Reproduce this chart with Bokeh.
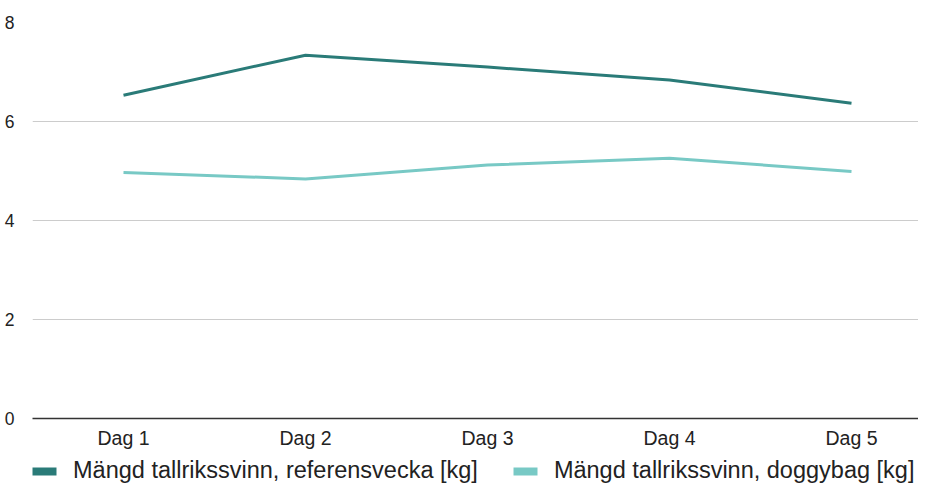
from bokeh.plotting import figure
from bokeh.layouts import column
from bokeh.models import Range1d, Legend, LegendItem, FixedTicker
from bokeh.embed import file_html
from bokeh.resources import INLINE

# ---- data ----
days = ["Dag 1", "Dag 2", "Dag 3", "Dag 4", "Dag 5"]
referensvecka = [6.53, 7.34, 7.10, 6.84, 6.37]
doggybag = [4.97, 4.84, 5.12, 5.26, 4.99]
y_ticks = [0, 2, 4, 6, 8]
series_names = ["Mängd tallrikssvinn, referensvecka [kg]",
                "Mängd tallrikssvinn, doggybag [kg]"]
colors = ["#2a7b78", "#78c9c5"]
series = [referensvecka, doggybag]

FONT = "Liberation Sans"
x_pos = list(range(1, len(days) + 1))

W = 918
FRAME_W = W - 32
p = figure(width=W, height=454, output_backend="svg", toolbar_location=None,
           x_range=Range1d(0.5, 0.5 + FRAME_W / 182), y_range=Range1d(0, 8),
           min_border_left=32, min_border_right=0, min_border_top=22,
           min_border_bottom=36)
p.outline_line_color = None

# axes
p.yaxis.ticker = FixedTicker(ticks=y_ticks)
p.yaxis.axis_line_color = None
p.yaxis.major_tick_line_color = None
p.yaxis.minor_tick_line_color = None
p.yaxis.major_label_text_font = FONT
p.yaxis.major_label_text_font_size = "17.5px"
p.yaxis.major_label_text_color = "#222222"
p.yaxis.major_label_standoff = 12

p.xaxis.ticker = FixedTicker(ticks=x_pos)
p.xaxis.major_label_overrides = {i: d for i, d in zip(x_pos, days)}
p.xaxis.axis_line_color = "#333333"
p.xaxis.axis_line_width = 1.5
p.xaxis.major_tick_line_color = None
p.xaxis.minor_tick_line_color = None
p.xaxis.major_label_text_font = FONT
p.xaxis.major_label_text_font_size = "19.5px"
p.xaxis.major_label_text_color = "#222222"
p.xaxis.major_label_standoff = 2

p.xgrid.grid_line_color = None
p.ygrid.ticker = FixedTicker(ticks=y_ticks)
p.ygrid.grid_line_color = "#cccccc"
p.ygrid.grid_line_width = 1

# lines
for vals, c in zip(series, colors):
    p.line(x_pos, vals, line_color=c, line_width=3)

# ---- legend strip ----
lg = figure(width=W, height=30, output_backend="svg", toolbar_location=None,
            x_range=Range1d(0, 1), y_range=Range1d(0, 1),
            x_axis_location=None, y_axis_location=None, min_border=0)
lg.grid.visible = False
lg.outline_line_color = None

items = []
for name, vals, c in zip(series_names, series, colors):
    # zero-size proxies: only their legend swatch is visible
    r = lg.rect(x=x_pos, y=vals, width=0, height=0,
                fill_color=c, line_color=None)
    items.append(LegendItem(label=name, renderers=[r]))

legend = Legend(items=items, orientation="horizontal", location=(-3, 0),
                glyph_width=30, glyph_height=10, label_standoff=14, spacing=32,
                padding=0, margin=0, border_line_color=None,
                background_fill_alpha=0,
                label_text_font=FONT, label_text_font_size="23.5px",
                label_text_color="#222222")
lg.add_layout(legend, "center")

layout = column(p, lg, spacing=0)
open("out.html", "w").write(file_html(layout, INLINE))
